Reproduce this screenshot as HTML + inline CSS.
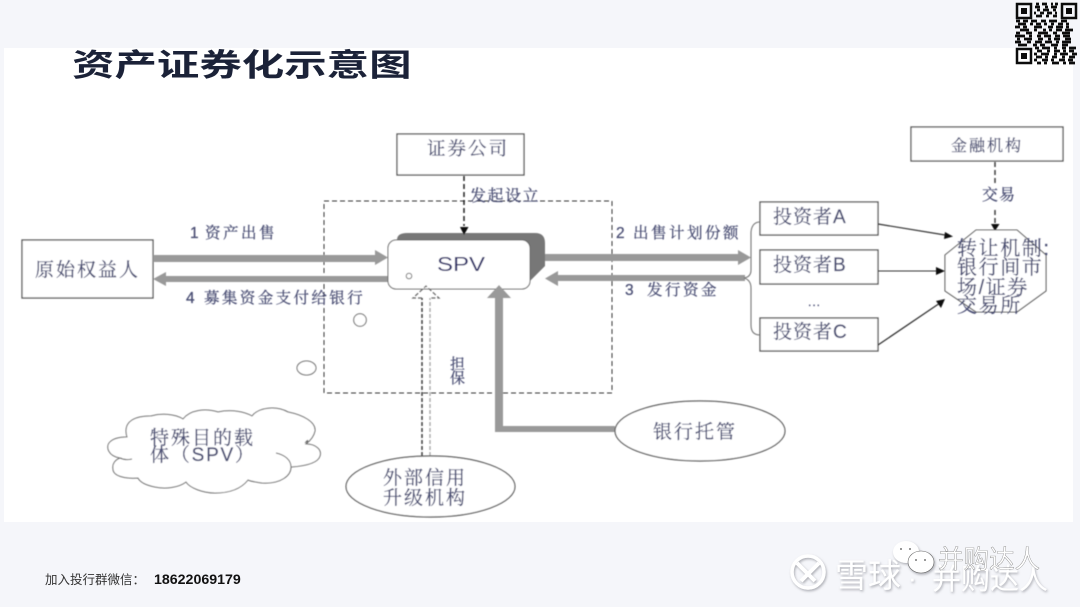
<!DOCTYPE html>
<html lang="zh">
<head>
<meta charset="utf-8">
<title>资产证券化示意图</title>
<style>
html,body{margin:0;padding:0;background:#f5f6fa;}
body{width:1080px;height:607px;overflow:hidden;}
svg{display:block;}
.l{font-family:"Liberation Sans","Noto Serif CJK SC",serif;fill:#4b4f74;stroke:#4b4f74;stroke-width:.25px;}
.s{font-family:"Liberation Sans","Noto Sans CJK SC",sans-serif;}
</style>
</head>
<body>
<svg width="1080" height="607" viewBox="0 0 1080 607" xmlns="http://www.w3.org/2000/svg">
<defs>
<filter id="b" x="-5%" y="-5%" width="110%" height="110%"><feGaussianBlur stdDeviation="0.4"/></filter>
<filter id="w" x="-10%" y="-20%" width="120%" height="140%"><feDropShadow dx="1" dy="1.5" stdDeviation="1.2" flood-color="#8d8f96" flood-opacity=".7"/></filter>
</defs>
<rect width="1080" height="607" fill="#f5f6fa"/>
<rect x="4" y="48" width="1069" height="474" fill="#fff"/>

<text class="s" transform="translate(72 76) scale(1.37 1)" font-size="31" font-weight="700" fill="#1b2238">资产证券化示意图</text>

<g filter="url(#b)">
<!-- dashed container -->
<rect x="324" y="201" width="288" height="192" fill="none" stroke="#333" stroke-width="1" stroke-dasharray="5 3"/>

<!-- boxes -->
<g fill="#fff" stroke="#555" stroke-width="1.3">
<rect x="397" y="134" width="127" height="41"/>
<rect x="22" y="240" width="131" height="58"/>
<rect x="911" y="127" width="152" height="34"/>
<rect x="760" y="202" width="118" height="33"/>
<rect x="760" y="250" width="118" height="34"/>
<rect x="760" y="318" width="118" height="33"/>
</g>

<!-- thick arrows -->
<g fill="#999">
<path d="M153 255H375V250L388 257.500L375 265V262H153Z"/>
<path d="M388 276H166V272L153 279L166 286V282H388Z"/>
<path d="M530 254H738V250L751 257.500L738 265V261H530Z"/>
<path d="M745 275H558V271L545 278.500L558 286V281H745Z"/>
</g>

<!-- SPV -->
<path d="M397 240Q397 233 407 233H535Q545 233 545 243V266L530 281H397Z" fill="#777"/>
<rect x="388" y="240" width="142" height="49" rx="8" fill="#fff" stroke="#666" stroke-width="1"/>
<circle cx="409" cy="276" r="2.800" fill="#fff" stroke="#777" stroke-width="1"/>
<text x="437" y="271" font-family="Liberation Sans,sans-serif" font-size="20" textLength="48" lengthAdjust="spacingAndGlyphs" fill="#30326a">SPV</text>

<!-- bank custody arrow -->
<path d="M495 298H487L499 285L511 298H503V426H615V432H495Z" fill="#999"/>
<ellipse cx="700" cy="431" rx="85" ry="30" fill="#fff" stroke="#555" stroke-width="1.200"/>

<!-- external hollow arrow -->
<path d="M422 456V298" stroke="#333" stroke-width="1.400" stroke-dasharray="4 2" fill="none"/>
<path d="M430 456V298" stroke="#aaa" stroke-width="1.400" stroke-dasharray="4 2" fill="none"/>
<path d="M422 298H413L426 286L439 298H430" stroke="#666" stroke-width="1.200" stroke-dasharray="4 2" fill="none"/>
<ellipse cx="430.500" cy="486.500" rx="84.500" ry="30.500" fill="#fff" stroke="#555" stroke-width="1.200"/>

<!-- securities dashed -->
<path d="M464 176V226" stroke="#222" stroke-width="1.500" stroke-dasharray="5 3" fill="none"/>
<path d="M460 227H468.500L464 235Z" fill="#111"/>

<!-- transaction dashed -->
<path d="M995 162V183M995 210V224" stroke="#333" stroke-width="1.400" stroke-dasharray="5 3" fill="none"/>
<path d="M991 224H999.500L995 231Z" fill="#111"/>

<!-- brace -->
<path d="M760 222Q752 222 751 232V270Q751 277 744 278Q751 280 751 288V325Q751 335 760 335" fill="none" stroke="#777" stroke-width="1.100"/>

<!-- octagon -->
<path d="M976 230H1017L1046 255V291L1017 312H976L945 291V255Z" fill="#fff" stroke="#555" stroke-width="1.100"/>

<!-- investor arrows -->
<path d="M878 224L945 235" stroke="#333" stroke-width="1.200"/>
<path d="M953 236.500L944 239L945 232Z" fill="#111"/>
<path d="M878 271H937" stroke="#333" stroke-width="1.100"/>
<path d="M945 271L936 267V275Z" fill="#111"/>
<path d="M878 345L940 303" stroke="#333" stroke-width="1.300"/>
<path d="M945 299L936 301L941 308Z" fill="#111"/>

<!-- cloud -->
<path d="M127 437C122 420 137 416 151 416C162 413 175 414 183 419C190 410 205 408 218 412C232 409 245 412 252 416C258 408 275 405 288 412C303 415 316 422 315 431C314 436 311 440 306 444C316 444 322 450 320 456C318 463 305 466 291 467C291 475 282 484 262 483C255 482 250 481 248 480C240 490 228 493 215 493C203 493 190 488 186 482C178 488 165 489 155 487C145 485 140 482 138 478C125 479 113 476 113 469C112 464 115 460 120 458C108 456 106 447 109 443C113 438 120 437 127 437Z" fill="#fff" stroke="#666" stroke-width="1"/>
<path d="M120 458C124 460 128 460 132 459M291 467C291 460 285 455 276 453M306 444C308 441 309 438 305 443" fill="none" stroke="#666" stroke-width="1"/>
<circle cx="360" cy="320" r="6.300" fill="#fff" stroke="#666" stroke-width="1"/>
<ellipse cx="306.500" cy="368" rx="9.500" ry="7" fill="#fff" stroke="#666" stroke-width="1"/>

<!-- labels -->
<text class="l" x="427" y="155" font-size="18.500" letter-spacing="2">证券公司</text>
<text class="l" x="470" y="201" font-size="16" letter-spacing="1.500">发起设立</text>
<text class="l" x="190" y="238" font-size="15.500" letter-spacing="2.500">1<tspan x="205">资产出售</tspan></text>
<text class="l" x="186" y="303" font-size="15.500" letter-spacing="2.400">4<tspan x="204">募集资金支付给银行</tspan></text>
<text class="l" x="616" y="238" font-size="15.500" letter-spacing="2.500">2<tspan x="633">出售计划份额</tspan></text>
<text class="l" x="625" y="295" font-size="15.500" letter-spacing="2.500">3<tspan x="647">发行资金</tspan></text>
<text class="l" x="35" y="276" font-size="19" letter-spacing="2">原始权益人</text>
<text class="l" x="773" y="223" font-size="19" letter-spacing="1">投资者A</text>
<text class="l" x="773" y="271" font-size="19" letter-spacing="1">投资者B</text>
<text class="l" x="773" y="338" font-size="19" letter-spacing="1">投资者C</text>
<text class="l" x="808" y="306" font-size="12" letter-spacing="1">...</text>
<text class="l" x="951" y="151" font-size="16" letter-spacing="2">金融机构</text>
<text class="l" x="982" y="200" font-size="16" letter-spacing="1">交易</text>
<text class="l" x="957" y="255" font-size="20" letter-spacing="1.600">转让机制:</text>
<text class="l" x="957" y="274" font-size="20" letter-spacing="1.600">银行间市</text>
<text class="l" x="957" y="294" font-size="20" letter-spacing="1.600">场/证券</text>
<text class="l" x="957" y="312" font-size="20" letter-spacing="1.600">交易所</text>
<text class="l" x="450" y="369" font-size="15">担</text>
<text class="l" x="450" y="383" font-size="15">保</text>
<text class="l" x="150" y="444" font-size="19" letter-spacing="2">特殊目的载</text>
<text class="l" x="150" y="461" font-size="19" letter-spacing="1.800">体（SPV）</text>
<text class="l" x="383" y="484" font-size="19" letter-spacing="2">外部信用</text>
<text class="l" x="383" y="504" font-size="19" letter-spacing="2">升级机构</text>
<text class="l" x="653" y="438" font-size="19" letter-spacing="2">银行托管</text>
</g>

<!-- footer -->
<text x="45" y="584" font-size="12.500" fill="#333" font-family="Liberation Sans,Noto Sans CJK SC,sans-serif">加入投行群微信：</text>
<text x="154" y="584" font-size="14.200" font-weight="700" fill="#111" font-family="Liberation Sans,sans-serif">18622069179</text>

<!-- QR -->
<g fill="none" stroke="#0c0c0c">
<rect x="1017" y="4" width="14" height="14" stroke-width="2.500"/>
<rect x="1062" y="4" width="14" height="14" stroke-width="2.500"/>
<rect x="1017" y="49" width="14" height="14" stroke-width="2.500"/>
</g>
<g fill="#0c0c0c">
<rect x="1021" y="8" width="6" height="6"/><rect x="1066" y="8" width="6" height="6"/><rect x="1021" y="53" width="6" height="6"/>
</g>
<path stroke="#0c0c0c" stroke-width="2.800" fill="none" d="M1036 4h3m3 0h5m4 0h2m2 0h3M1035 7h5m5 0h3m3 0h6M1037 10h3m3 0h6m4 0h3M1034 13h2m4 0h4m3 0h5m3 0h2M1036 16h6m4 0h3m4 0h4M1016 21h4m3 0h5m3 0h6m4 0h5m3 0h8m4 0h6M1018 24h8m4 0h3m3 0h5m3 0h3m4 0h3m4 0h5m3 0h3M1015 27h5m3 0h4m7 0h8m6 0h5m3 0h7m3 0h3M1020 30h9m5 0h3m6 0h3m3 0h3m4 0h6m3 0h8M1016 33h4m6 0h6m6 0h10m5 0h4m5 0h8M1015 36h10m4 0h3m5 0h4m3 0h7m4 0h5m3 0h7M1017 39h3m4 0h8m6 0h5m5 0h3m3 0h6m5 0h6M1015 42h6m6 0h4m4 0h7m3 0h7m4 0h3m3 0h9M1018 45h9m6 0h4m3 0h5m6 0h7m4 0h6M1035 48h4m3 0h8m4 0h3m5 0h4m3 0h7M1037 51h5m5 0h3m4 0h6m3 0h3m3 0h5M1034 54h3m4 0h8m5 0h3m3 0h8m4 0h5M1036 57h6m3 0h3m4 0h5m5 0h3m4 0h6M1034 60h3m5 0h6m3 0h3m5 0h6m3 0h5M1037 63h4m3 0h3m5 0h7m4 0h3m3 0h6"/>

<!-- watermark -->
<g filter="url(#w)" fill="#fff">
<circle cx="808" cy="572" r="16" fill="none" stroke="#fff" stroke-width="3.500"/>
<path d="M797 563L815 581M819 563L801 581" stroke="#fff" stroke-width="4" fill="none"/>
<text class="s" x="835" y="587" font-size="33">雪球</text>
<text class="s" x="908" y="587" font-size="26">·</text>
<text class="s" x="932" y="589" font-size="29">并购达人</text>
<ellipse cx="906" cy="552" rx="13" ry="11"/>
<ellipse cx="921" cy="562" rx="13" ry="11" stroke="#666" stroke-width=".6"/>
</g>
<g fill="#777"><circle cx="901" cy="549" r="1"/><circle cx="910" cy="549" r="1"/><circle cx="916" cy="560" r="1"/><circle cx="925" cy="560" r="1"/></g>
<text class="s" x="938" y="568" font-size="25.500" fill="#fff" stroke="#777" stroke-width=".35">并购达人</text>
</svg>
</body>
</html>
